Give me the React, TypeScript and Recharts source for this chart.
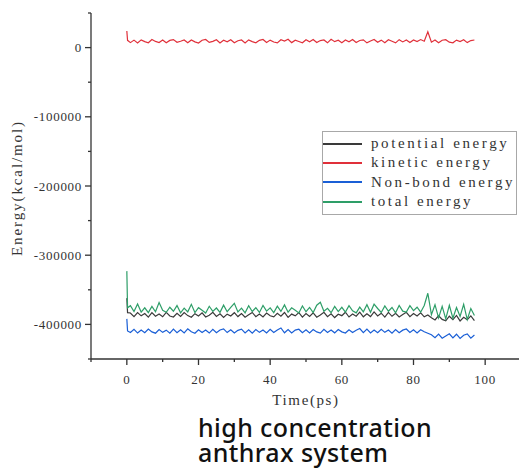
import { LineChart, Line, XAxis, YAxis, Legend } from 'recharts';

// time in ps (first two points capture the start-up spike)
const time = [0, 0.2, ...Array.from({ length: 97 }, (_, i) => i + 1)];

const kinetic = [
  24000, 10500,
  7200, 10800, 6800, 11200, 8600, 7000, 11600, 8900, 7400, 11000,
  6900, 10400, 11500, 7600, 9200, 11100, 7000, 10900, 8300, 6700,
  10700, 11800, 7500, 9000, 11300, 6600, 10600, 8400, 11400, 7100,
  9900, 11000, 6800, 11200, 8700, 6900, 10500, 11700, 7300, 10800,
  8100, 6800, 11300, 9400, 12000, 7200, 10700, 8800, 6900, 11400,
  8500, 11600, 7300, 10200, 11000, 6900, 11900, 8600, 10700, 7100,
  10900, 8400, 11700, 7400, 10300, 11200, 6800, 9600, 11800, 7700,
  10800, 7000, 11300, 9100, 6900, 11500, 8200, 10900, 7300, 11100,
  8700, 11600, 9200, 23000, 7800, 10900, 7100, 10600, 11400, 7900,
  6900, 10800, 8600, 11300, 7200, 10200, 11000,
];

const potential = [
  -362000, -383000,
  -383500, -388900, -382800, -387600, -384200, -389500, -383000, -388200, -385100, -389000,
  -382600, -387800, -389300, -384000, -388600, -382900, -387300, -389700, -384500, -387900,
  -383400, -389200, -386800, -382500, -388400, -384600, -390000, -385200, -387900, -383100,
  -388700, -384300, -389600, -386200, -382700, -388800, -385000, -389300, -383600, -387500,
  -389100, -383900, -388000, -382800, -389800, -385100, -387700, -383000, -389400, -384400,
  -388500, -383300, -389600, -386400, -382600, -388900, -384700, -390100, -385300, -387400,
  -382400, -389300, -384900, -388100, -382200, -389000, -384800, -388700, -381900, -387800,
  -383800, -389500, -382700, -388300, -384100, -389200, -385800, -382600, -388800, -384200,
  -387900, -383300, -389000, -386500, -390500, -393500, -387500, -392800, -394800, -388200,
  -393200, -387000, -395000, -389800, -393400, -387800, -394500,
];

const nonBond = [
  -392000, -409500,
  -411800, -407200, -412500, -408100, -412000, -406600, -410800, -412700, -407500, -411500,
  -408300, -412600, -406900, -411900, -407800, -412300, -406400, -410700, -412800, -407700,
  -411600, -408200, -412500, -407000, -412100, -408000, -406500, -411800, -407800, -412500,
  -408600, -406800, -412200, -407900, -412700, -407300, -411500, -408100, -412400, -407200,
  -411800, -408000, -405200, -412100, -407600, -412500, -408300, -407000, -412000, -407900,
  -412300, -407500, -410900, -412600, -407200, -411700, -408200, -412200, -407400, -410800,
  -412500, -407700, -411600, -408400, -406000, -411900, -406900, -412400, -408100, -412100,
  -407100, -411500, -408000, -412800, -407500, -412000, -408300, -406600, -411700, -407900,
  -412200, -407700, -410600, -412800, -415000, -419200, -414000, -420000, -416800, -413600,
  -419500, -414200, -420300, -415600, -413800, -419800, -415400,
];

const total = [
  -323000, -376000,
  -373000, -381500, -370500, -382200, -376000, -383000, -374000, -381800, -368500, -379600,
  -382500, -375200, -381000, -372800, -383200, -376500, -381900, -371000, -382800, -375800,
  -379700, -383500, -373800, -381200, -376300, -382600, -372200, -381600, -375400, -369500,
  -382000, -376600, -383300, -373100, -381400, -375900, -382700, -372600, -380900, -376200,
  -383000, -373700, -381300, -371800, -382400, -376100, -379600, -383400, -373300, -381700,
  -375500, -382900, -372300, -368000, -381100, -376800, -383100, -373900, -381500, -375300,
  -382200, -372900, -380400, -383300, -375000, -381800, -371500, -382600, -370800, -377000,
  -382700, -373400, -381000, -375600, -383200, -372500, -380800, -382300, -373000, -380100,
  -375200, -382400, -372700, -355000, -386000, -371500, -390500, -374000, -392000, -372500,
  -391000, -375500, -388500, -371000, -393000, -377000, -387000,
];

const xTicks = [-10, 0, 10, 20, 30, 40, 50, 60, 70, 80, 90, 100, 110];
const yTicks = [-450000, -400000, -350000, -300000, -250000, -200000, -150000, -100000, -50000, 0, 50000];

const titleLines = ['high concentration', 'anthrax system'];

const series = [
  { key: 'potential', name: 'potential energy', color: '#3a3a3a' },
  { key: 'kinetic', name: 'kinetic energy', color: '#e0303a' },
  { key: 'nonBond', name: 'Non-bond energy', color: '#1a5fd6' },
  { key: 'total', name: 'total energy', color: '#2e9e68' },
];

const data = time.map((t, i) => ({
  t,
  potential: potential[i],
  kinetic: kinetic[i],
  nonBond: nonBond[i],
  total: total[i],
}));

const axisColor = '#333';
const serifFont = '"Liberation Serif", "DejaVu Serif", serif';

const XTick = ({ x, y, payload }: any) => {
  const major = payload.value % 20 === 0;
  return (
    <g>
      <line x1={x} x2={x} y1={y} y2={y + (major ? 6 : 3)} stroke={axisColor} strokeWidth={1.3} />
      {major && (
        <text x={x} y={y + 25} textAnchor="middle" fontSize={13} letterSpacing={0.7} fontFamily={serifFont} fill="#333">
          {payload.value}
        </text>
      )}
    </g>
  );
};

const YTick = ({ x, y, payload }: any) => {
  const major = payload.value % 100000 === 0;
  return (
    <g>
      <line x1={x} x2={x - (major ? 6 : 3)} y1={y} y2={y} stroke={axisColor} strokeWidth={1.3} />
      {major && (
        <text x={x - 9} y={y + 4.5} textAnchor="end" fontSize={13} letterSpacing={0.7} fontFamily={serifFont} fill="#333">
          {payload.value}
        </text>
      )}
    </g>
  );
};

const YLabel = ({ viewBox }: any) => {
  const cy = viewBox.y + viewBox.height / 2 + 2;
  return (
    <text
      x={17}
      y={cy}
      transform={`rotate(-90 17 ${cy})`}
      textAnchor="middle"
      dominantBaseline="central"
      fontSize={15}
      letterSpacing={1.9}
      fontFamily={serifFont}
      fill="#333"
    >
      Energy(kcal/mol)
    </text>
  );
};

const LegendBox = () => (
  <div
    style={{
      border: '1px solid #a8a8a8',
      background: '#fff',
      padding: '2px 0 3px 0',
      fontFamily: serifFont,
      fontSize: 15,
      letterSpacing: 2.6,
      color: '#333',
      width: 195,
      boxSizing: 'border-box',
    }}
  >
    {series.map((s) => (
      <div key={s.key} style={{ display: 'flex', alignItems: 'center', height: 19.3, whiteSpace: 'nowrap' }}>
        <span style={{ display: 'inline-block', width: 39, height: 2, background: s.color, marginRight: 9 }} />
        <span>{s.name}</span>
      </div>
    ))}
  </div>
);

export default function App() {
  return (
    <div style={{ position: 'absolute', left: 0, top: 0, width: 519, height: 470, overflow: 'hidden', background: '#fff' }}>
      <LineChart width={522} height={420} data={data} margin={{ top: 13, right: 1, bottom: 0, left: 0 }}>
        <XAxis
          dataKey="t"
          type="number"
          domain={[-10, 110]}
          ticks={xTicks}
          interval={0}
          tickSize={0}
          tickMargin={0}
          tick={<XTick />}
          height={61}
          stroke={axisColor}
          strokeWidth={1.3}
          label={{ value: 'Time(ps)', position: 'insideBottom', offset: 15, fontSize: 15, letterSpacing: 1.6, fontFamily: serifFont, fill: '#333' }}
        />
        <YAxis
          type="number"
          domain={[-450000, 50000]}
          ticks={yTicks}
          interval={0}
          allowDataOverflow
          tickSize={0}
          tickMargin={0}
          tick={<YTick />}
          width={91}
          stroke={axisColor}
          strokeWidth={1.3}
          label={<YLabel />}
        />
        <Legend
          layout="vertical"
          align="center"
          verticalAlign="middle"
          content={<LegendBox />}
          wrapperStyle={{ left: 322, top: 131, width: 196 }}
        />
        {series.map((s) => (
          <Line
            key={s.key}
            dataKey={s.key}
            name={s.name}
            stroke={s.color}
            strokeWidth={1.2}
            dot={false}
            type="linear"
            isAnimationActive={false}
          />
        ))}
      </LineChart>
      {titleLines.map((line, i) => (
        <div
          key={line}
          style={{
            position: 'absolute',
            left: 198,
            top: 415 + i * 25,
            height: 25,
            fontFamily: '"Noto Sans", sans-serif',
            fontWeight: 500,
            fontSize: 25,
            letterSpacing: 0.4,
            lineHeight: '25px',
            color: '#111',
            whiteSpace: 'nowrap',
          }}
        >
          {line}
        </div>
      ))}
    </div>
  );
}
